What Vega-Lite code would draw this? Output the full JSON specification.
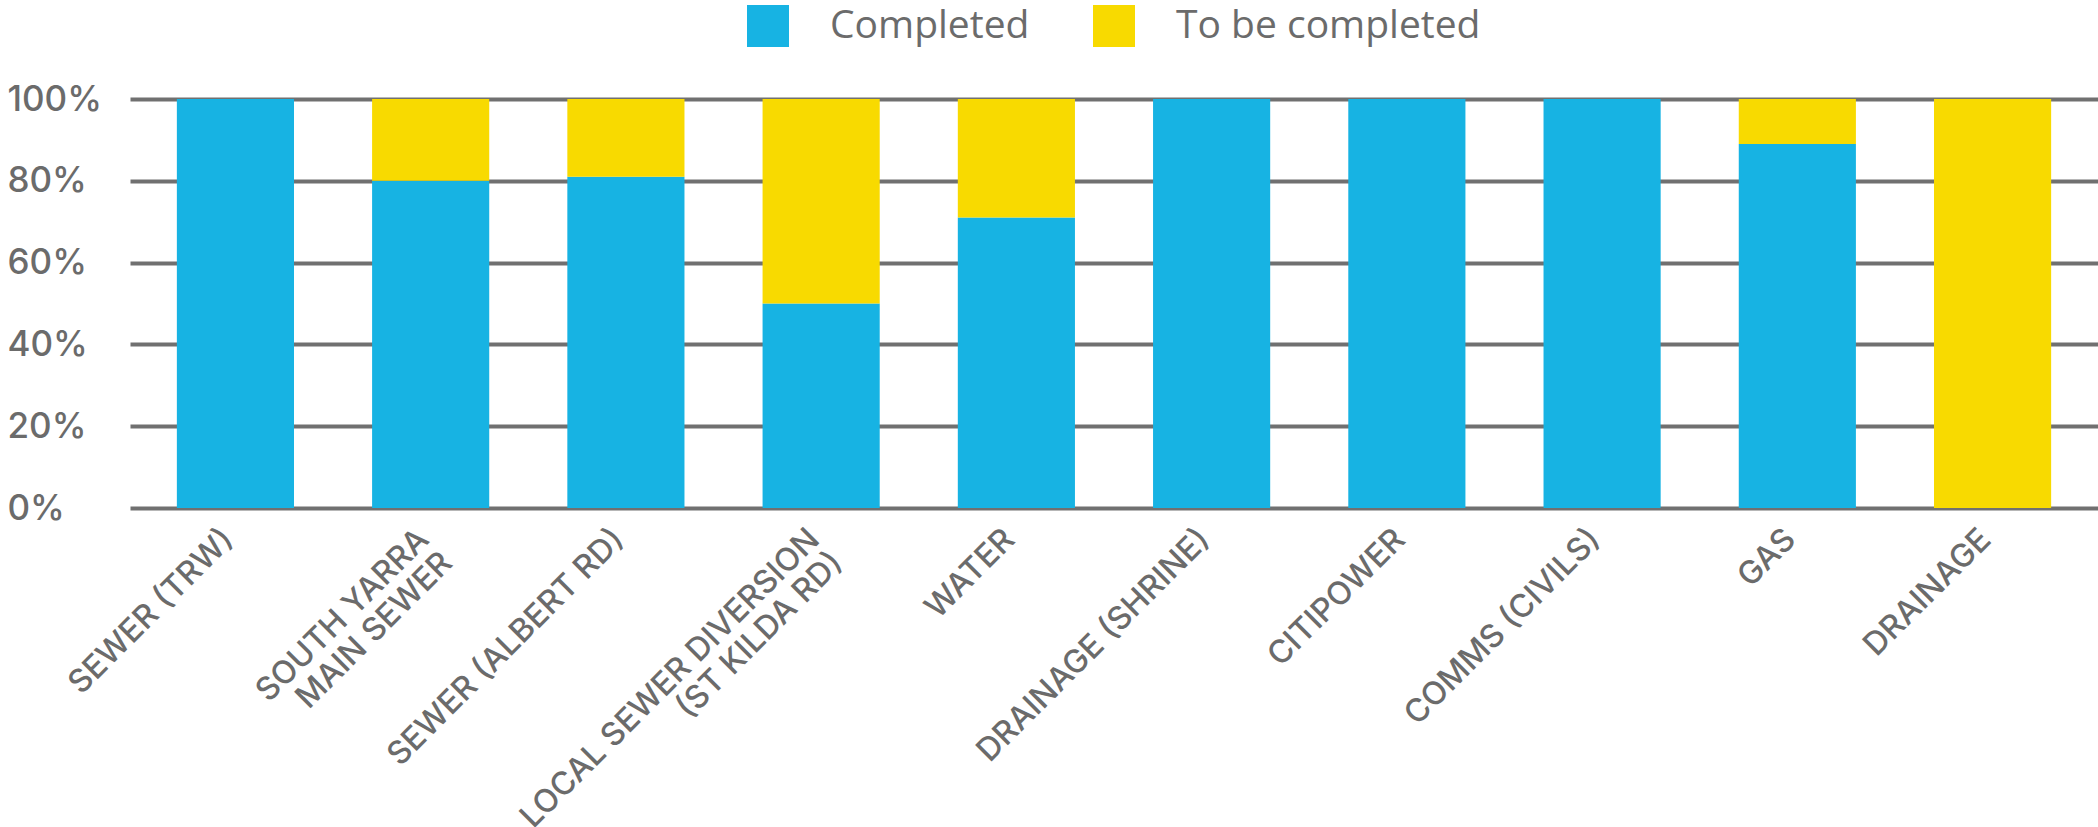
{
  "$schema": "https://vega.github.io/schema/vega-lite/v6.json",
  "autosize": "none",
  "width": 1968,
  "height": 409,
  "padding": {"left": 130, "top": 99, "right": 0, "bottom": 319},
  "background": "white",
  "data": {"values": [
    {"item": "SEWER (TRW)", "status": "Completed", "pct": 100},
    {"item": "SEWER (TRW)", "status": "To be completed", "pct": 0},
    {"item": "SOUTH YARRA MAIN SEWER", "status": "Completed", "pct": 80},
    {"item": "SOUTH YARRA MAIN SEWER", "status": "To be completed", "pct": 20},
    {"item": "SEWER (ALBERT RD)", "status": "Completed", "pct": 81},
    {"item": "SEWER (ALBERT RD)", "status": "To be completed", "pct": 19},
    {"item": "LOCAL SEWER DIVERSION (ST KILDA RD)", "status": "Completed", "pct": 50},
    {"item": "LOCAL SEWER DIVERSION (ST KILDA RD)", "status": "To be completed", "pct": 50},
    {"item": "WATER", "status": "Completed", "pct": 71},
    {"item": "WATER", "status": "To be completed", "pct": 29},
    {"item": "DRAINAGE (SHRINE)", "status": "Completed", "pct": 100},
    {"item": "DRAINAGE (SHRINE)", "status": "To be completed", "pct": 0},
    {"item": "CITIPOWER", "status": "Completed", "pct": 100},
    {"item": "CITIPOWER", "status": "To be completed", "pct": 0},
    {"item": "COMMS (CIVILS)", "status": "Completed", "pct": 100},
    {"item": "COMMS (CIVILS)", "status": "To be completed", "pct": 0},
    {"item": "GAS", "status": "Completed", "pct": 89},
    {"item": "GAS", "status": "To be completed", "pct": 11},
    {"item": "DRAINAGE", "status": "Completed", "pct": 0},
    {"item": "DRAINAGE", "status": "To be completed", "pct": 100}
  ]},
  "mark": {"type": "bar"},
  "encoding": {
    "x": {
      "field": "item", "type": "nominal", "sort": null,
      "scale": {"paddingInner": 0.4, "paddingOuter": 0.24},
      "axis": {
        "title": null, "domain": false, "ticks": false,
        "labelAngle": -45, "labelAlign": "right", "labelBaseline": "alphabetic",
        "labelPadding": 33, "labelFont": "Inter", "labelFontSize": 32, "labelFontWeight": 500,
        "labelColor": "#6b6b6b", "labelLineHeight": 33, "labelLimit": 0,
        "labelExpr": "datum.label == 'SOUTH YARRA MAIN SEWER' ? ['SOUTH YARRA', 'MAIN SEWER'] : datum.label == 'LOCAL SEWER DIVERSION (ST KILDA RD)' ? ['LOCAL SEWER DIVERSION', '(ST KILDA RD)'] : datum.label"
      }
    },
    "y": {
      "field": "pct", "type": "quantitative", "stack": "zero",
      "scale": {"domain": [0, 100], "nice": false},
      "axis": {
        "title": null, "domain": false, "ticks": false,
        "values": [0, 20, 40, 60, 80, 100],
        "labelExpr": "datum.value + '%'",
        "labelAlign": "left", "labelBaseline": "middle", "labelPadding": 123,
        "labelFont": "Inter", "labelFontSize": 35, "labelFontWeight": 500, "labelColor": "#6b6b6b",
        "grid": true, "gridColor": "#707070", "gridWidth": 4, "gridOpacity": 1
      }
    },
    "order": {"field": "status", "sort": "ascending"},
    "color": {
      "field": "status", "type": "nominal",
      "scale": {"domain": ["Completed", "To be completed"], "range": ["#17b3e3", "#f8da00"]},
      "legend": {
        "title": null, "orient": "none", "direction": "horizontal",
        "legendX": 617, "legendY": -94, "padding": 0,
        "symbolType": "square", "symbolSize": 1764, "symbolStrokeWidth": 0, "symbolOpacity": 1,
        "labelFont": "Open Sans", "labelFontSize": 39, "labelColor": "#6b6b6b",
        "labelLimit": 0, "labelOffset": 41, "columnPadding": 63
      }
    }
  },
  "config": {"view": {"stroke": null}}
}
